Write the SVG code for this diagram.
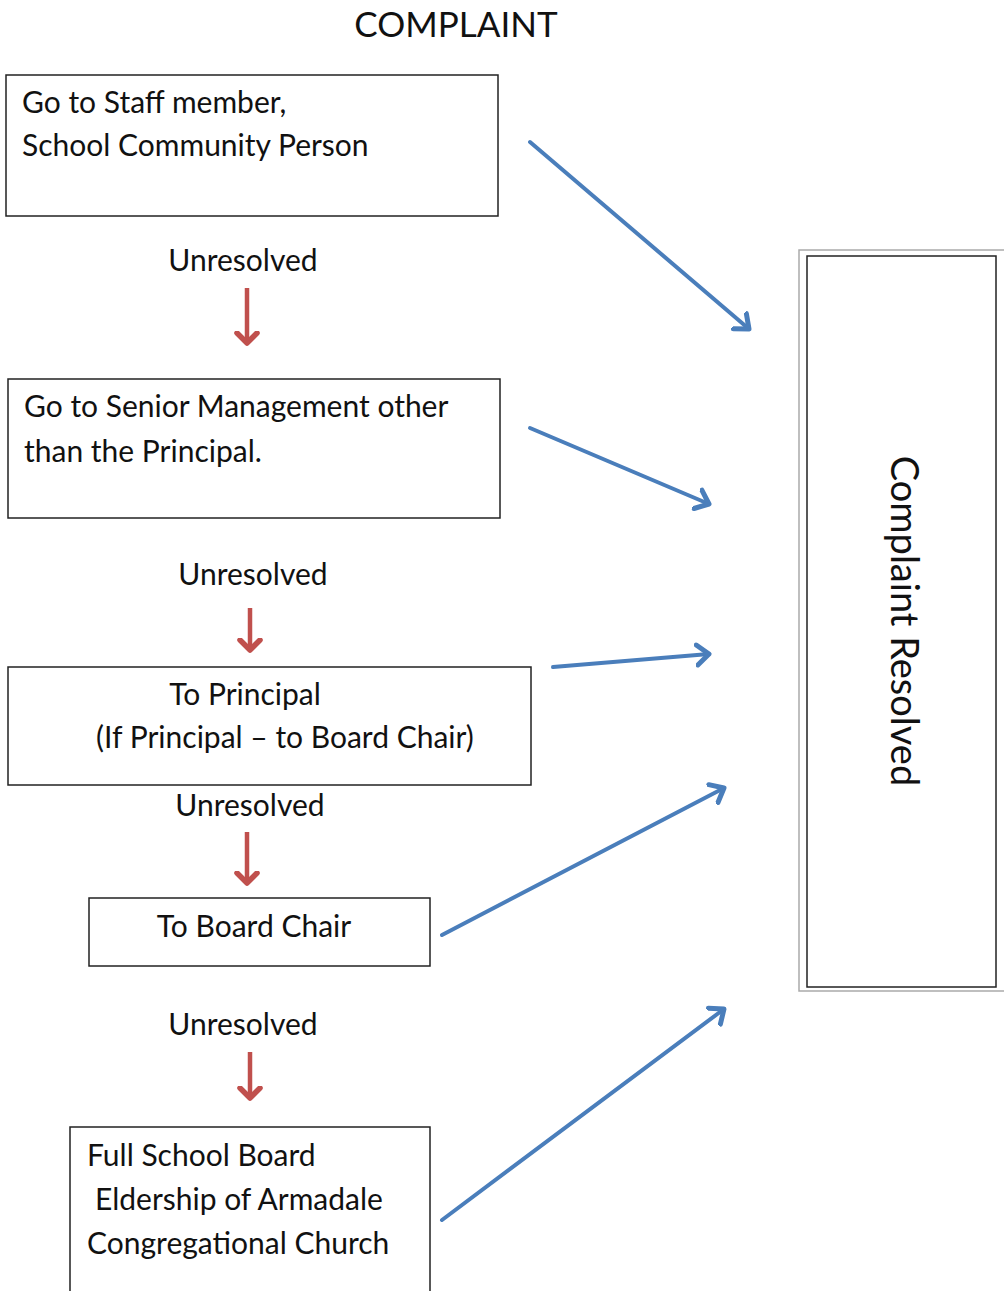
<svg xmlns="http://www.w3.org/2000/svg" width="1004" height="1291" viewBox="0 0 1004 1291">
<style>
.t{font-family:Lato,"Open Sans","Liberation Sans",sans-serif;font-size:30px;fill:#111}
.box{fill:#fff;stroke:#222;stroke-width:1.5}
.blue{stroke:#4a7ebb;stroke-width:4;fill:none;stroke-linecap:round}
.red{stroke:#c0504d;stroke-width:4.5;fill:none}
</style>
<defs>
<marker id="bh" markerUnits="userSpaceOnUse" markerWidth="30" markerHeight="30" refX="14" refY="12" orient="auto" viewBox="0 0 30 24">
<path d="M2,2 L14,12 L2,22" fill="none" stroke="#4a7ebb" stroke-width="5" stroke-linecap="round" stroke-linejoin="round"/>
</marker>
<marker id="rh" markerUnits="userSpaceOnUse" markerWidth="30" markerHeight="30" refX="12" refY="12" orient="auto" viewBox="0 0 30 24">
<path d="M2,2 L12,12 L2,22" fill="none" stroke="#c0504d" stroke-width="5.5" stroke-linecap="round" stroke-linejoin="round"/>
</marker>
</defs>
<rect width="1004" height="1291" fill="#fff"/>
<text class="t" x="456" y="37" text-anchor="middle" style="font-size:35px">COMPLAINT</text>
<g id="n1">
<rect class="box" x="6" y="75" width="492" height="141"/>
<text class="t" x="22" y="113">Go to Staff member,</text>
<text class="t" x="22" y="156">School Community Person</text>
</g>
<g id="n2">
<rect class="box" x="8" y="379" width="492" height="139"/>
<text class="t" x="24" y="417">Go to Senior Management other</text>
<text class="t" x="24" y="462">than the Principal.</text>
</g>
<g id="n3">
<rect class="box" x="8" y="667" width="523" height="118"/>
<text class="t" x="245" y="705" text-anchor="middle">To Principal</text>
<text class="t" x="285" y="748" text-anchor="middle">(If Principal – to Board Chair)</text>
</g>
<g id="n4">
<rect class="box" x="89" y="898" width="341" height="68"/>
<text class="t" x="254" y="937" text-anchor="middle">To Board Chair</text>
</g>
<g id="n5">
<rect class="box" x="70" y="1127" width="360" height="170"/>
<text class="t" x="87" y="1166">Full School Board</text>
<text class="t" x="95" y="1210">Eldership of Armadale</text>
<text class="t" x="87" y="1254">Congregational Church</text>
</g>
<g id="n6">
<rect x="799" y="250" width="210" height="741" fill="#fff" stroke="#aaa" stroke-width="1.5"/>
<rect class="box" x="807" y="256" width="189" height="731"/>
<text class="t" transform="translate(891,621) rotate(90)" text-anchor="middle" style="font-size:38px">Complaint Resolved</text>
</g>
<g id="labels">
<text class="t" x="243" y="271" text-anchor="middle">Unresolved</text>
<text class="t" x="253" y="585" text-anchor="middle">Unresolved</text>
<text class="t" x="250" y="816" text-anchor="middle">Unresolved</text>
<text class="t" x="243" y="1035" text-anchor="middle">Unresolved</text>
</g>
<g id="connectors">
<line class="red" x1="247" y1="288" x2="247" y2="343" marker-end="url(#rh)"/>
<line class="red" x1="250" y1="608" x2="250" y2="650" marker-end="url(#rh)"/>
<line class="red" x1="247" y1="832" x2="247" y2="883" marker-end="url(#rh)"/>
<line class="red" x1="250" y1="1052" x2="250" y2="1098" marker-end="url(#rh)"/>
<line class="blue" x1="530" y1="142" x2="749" y2="329" marker-end="url(#bh)"/>
<line class="blue" x1="530" y1="428" x2="709" y2="504" marker-end="url(#bh)"/>
<line class="blue" x1="553" y1="667" x2="709" y2="654" marker-end="url(#bh)"/>
<line class="blue" x1="442" y1="935" x2="724" y2="788" marker-end="url(#bh)"/>
<line class="blue" x1="442" y1="1220" x2="724" y2="1009" marker-end="url(#bh)"/>
</g>
</svg>
